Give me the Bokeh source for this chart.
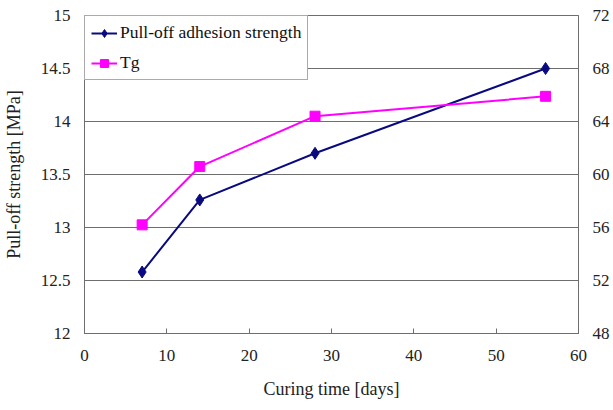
from bokeh.plotting import figure
from bokeh.models import (LinearAxis, Range1d, FixedTicker, CustomJSTickFormatter,
                          Legend, LegendItem)
from bokeh.embed import file_html
from bokeh.resources import INLINE

days = [7, 14, 28, 56]
pulloff = [12.58, 13.26, 13.70, 14.50]
tg = [56.2, 60.6, 64.4, 65.9]

x_ticks = [0, 10, 20, 30, 40, 50, 60]
left_ticks = [12, 12.5, 13, 13.5, 14, 14.5, 15]
right_ticks = [48, 52, 56, 60, 64, 68, 72]

FONT = "'Liberation Serif', 'Times New Roman', serif"
NAVY = "#0a0a80"
MAG = "#ff00ff"
GRID = "#6e6e6e"

p = figure(frame_width=494, frame_height=318, output_backend="svg", toolbar_location=None,
           x_range=Range1d(0, 60), y_range=Range1d(12, 15),
           min_border_left=84, min_border_right=20, min_border_top=15, min_border_bottom=60)
p.extra_y_ranges = {"tg": Range1d(48, 72)}

fmt = CustomJSTickFormatter(code="return Number(tick.toFixed(4)).toString();")

xa = p.xaxis[0]
xa.ticker = FixedTicker(ticks=x_ticks)
xa.formatter = fmt
xa.axis_label = "Curing time [days]"
ya = p.yaxis[0]
ya.ticker = FixedTicker(ticks=left_ticks)
ya.formatter = fmt
ya.axis_label = "Pull-off strength [MPa]"

ra = LinearAxis(y_range_name="tg", ticker=FixedTicker(ticks=right_ticks), formatter=fmt)
p.add_layout(ra, "right")

for ax in (xa, ya, ra):
    ax.axis_line_color = GRID
    ax.major_label_text_font = FONT
    ax.major_label_text_font_size = "17px"
    ax.major_label_text_color = "#222222"
    ax.axis_label_text_font = FONT
    ax.axis_label_text_font_size = "18px"
    ax.axis_label_text_font_style = "normal"
    ax.axis_label_text_color = "#222222"
    ax.minor_tick_line_color = None
    ax.major_tick_line_color = GRID

xa.major_tick_in = 5
xa.major_tick_out = 0
xa.major_label_standoff = 16
xa.axis_label_standoff = 15
ya.major_tick_in = 0
ya.major_tick_out = 0
ya.major_label_standoff = 14
ya.axis_label_standoff = 14
ra.major_tick_in = 0
ra.major_tick_out = 0
ra.major_label_standoff = 14

p.xgrid.grid_line_color = None
p.ygrid.grid_line_color = GRID
p.ygrid.ticker = FixedTicker(ticks=left_ticks)
p.outline_line_color = GRID
p.background_fill_color = "white"
p.border_fill_color = "white"

l1 = p.line(days, pulloff, line_color=NAVY, line_width=2)
m1 = p.scatter(days, pulloff, marker="diamond", size=12, fill_color=NAVY, line_color=NAVY)
l2 = p.line(days, tg, line_color=MAG, line_width=2, y_range_name="tg")
m2 = p.scatter(days, tg, marker="square", size=10, fill_color=MAG, line_color=MAG, y_range_name="tg")

legend = Legend(items=[LegendItem(label="Pull-off adhesion strength", renderers=[l1, m1]),
                       LegendItem(label="Tg", renderers=[l2, m2])],
                location="top_left")
legend.margin = 0
legend.padding = 6
legend.spacing = 9
legend.glyph_width = 26
legend.glyph_height = 20
legend.label_standoff = 3
legend.label_height = 20
legend.label_text_font = FONT
legend.label_text_font_size = "17.5px"
legend.label_text_color = "#111111"
legend.border_line_color = "#555555"
legend.border_line_width = 1
legend.background_fill_alpha = 1
p.add_layout(legend)

open("out.html", "w").write(file_html(p, INLINE))
